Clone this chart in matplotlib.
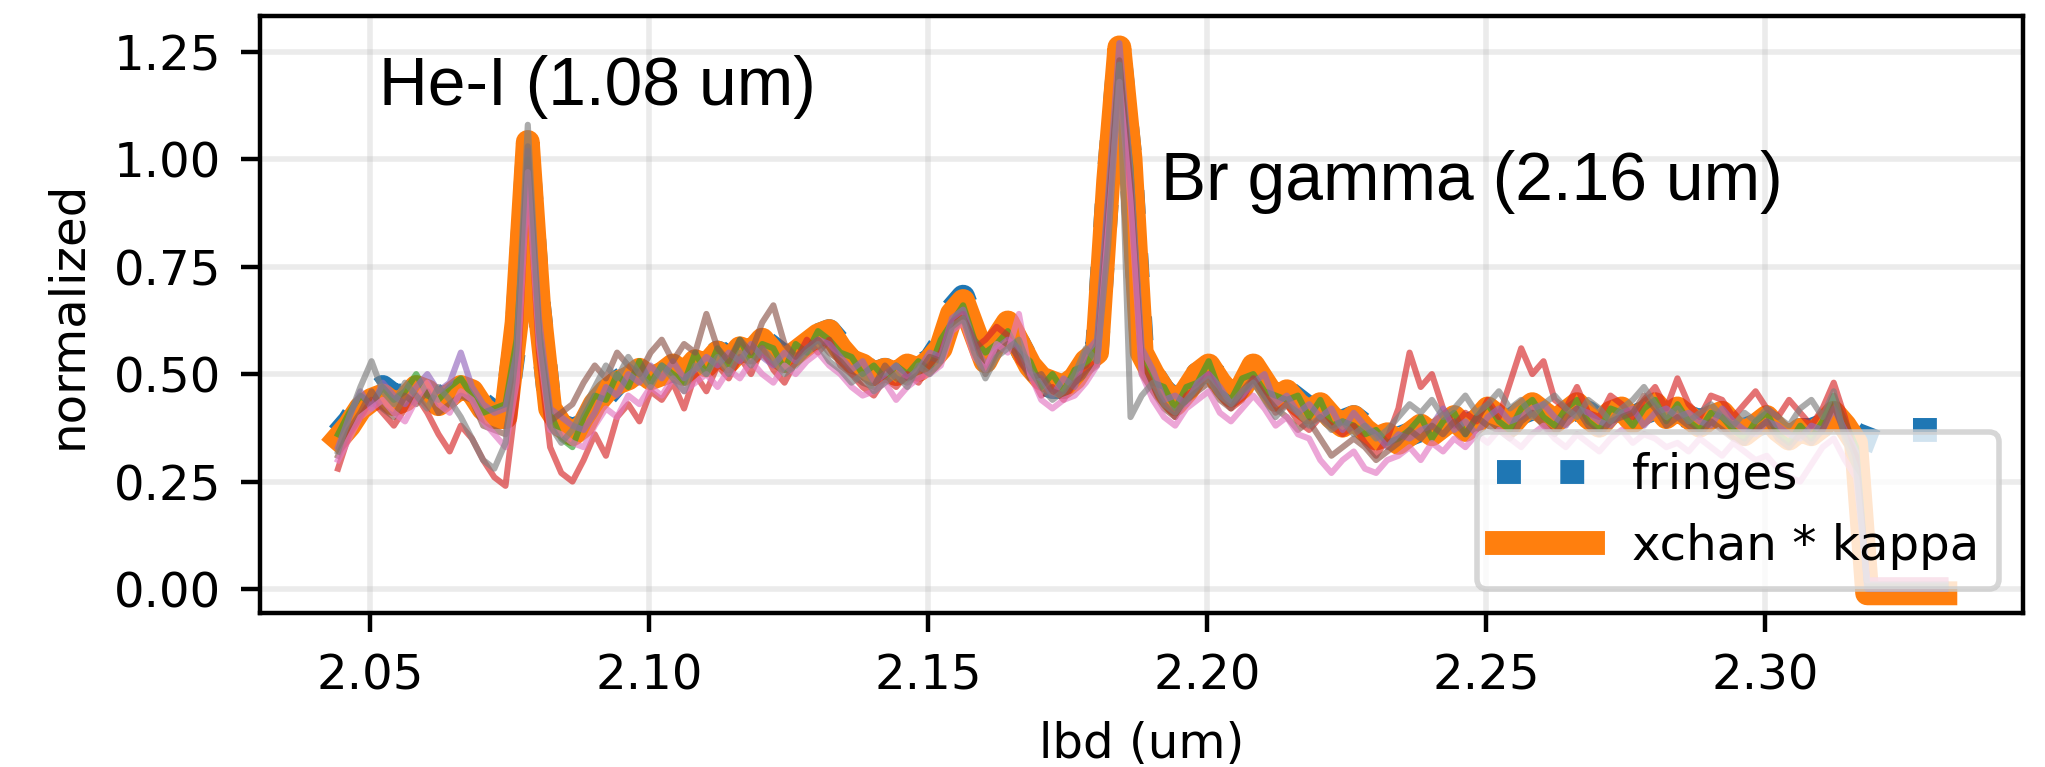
import numpy as np
import matplotlib.pyplot as plt

# wavelength grid (um), one value per spectral channel
lbd = np.linspace(2.0443, 2.3323, 145)

# thick curves
fringes = [0.36, 0.39, 0.43, 0.45, 0.47, 0.45, 0.45, 0.48, 0.47, 0.44, 0.45, 0.47, 0.46, 0.43, 0.41,
           0.41, 0.60, 1.02, 0.66, 0.42, 0.38, 0.37, 0.38, 0.42, 0.45, 0.48, 0.50, 0.50, 0.49, 0.50,
           0.51, 0.50, 0.52, 0.53, 0.55, 0.54, 0.57, 0.56, 0.58, 0.56, 0.54, 0.55, 0.57, 0.59, 0.60,
           0.57, 0.54, 0.52, 0.50, 0.51, 0.50, 0.51, 0.52, 0.53, 0.57, 0.65, 0.68, 0.61, 0.54, 0.58,
           0.61, 0.57, 0.52, 0.48, 0.47, 0.47, 0.49, 0.54, 0.56, 0.95, 1.25, 1.00, 0.57, 0.50, 0.46,
           0.44, 0.46, 0.50, 0.51, 0.49, 0.46, 0.47, 0.51, 0.48, 0.45, 0.46, 0.44, 0.42, 0.43, 0.41,
           0.39, 0.40, 0.38, 0.36, 0.36, 0.35, 0.36, 0.37, 0.37, 0.38, 0.39, 0.38, 0.39, 0.41, 0.40,
           0.39, 0.41, 0.42, 0.41, 0.40, 0.41, 0.42, 0.41, 0.39, 0.40, 0.41, 0.40, 0.41, 0.42, 0.40,
           0.41, 0.40, 0.39, 0.40, 0.40, 0.38, 0.37, 0.38, 0.39, 0.37, 0.36, 0.37, 0.37, 0.38, 0.40,
           0.38, 0.36, 0.35, 0.34, 0.35, 0.36, 0.37, 0.37, 0.37, 0.37]

xchan_kappa = [0.35, 0.38, 0.42, 0.44, 0.45, 0.43, 0.44, 0.47, 0.46, 0.43, 0.45, 0.47, 0.46, 0.42, 0.40,
               0.40, 0.62, 1.04, 0.66, 0.42, 0.38, 0.36, 0.38, 0.43, 0.46, 0.48, 0.49, 0.51, 0.49, 0.50,
               0.52, 0.50, 0.53, 0.52, 0.55, 0.53, 0.56, 0.55, 0.58, 0.55, 0.53, 0.55, 0.57, 0.59, 0.60,
               0.56, 0.53, 0.52, 0.50, 0.51, 0.50, 0.52, 0.51, 0.53, 0.56, 0.64, 0.67, 0.60, 0.53, 0.58,
               0.62, 0.57, 0.52, 0.49, 0.48, 0.47, 0.49, 0.53, 0.55, 0.95, 1.26, 1.00, 0.55, 0.50, 0.46,
               0.43, 0.46, 0.50, 0.52, 0.48, 0.45, 0.47, 0.52, 0.48, 0.44, 0.46, 0.43, 0.41, 0.43, 0.40,
               0.38, 0.40, 0.37, 0.35, 0.36, 0.34, 0.36, 0.38, 0.36, 0.38, 0.40, 0.37, 0.39, 0.42, 0.40,
               0.38, 0.41, 0.43, 0.41, 0.39, 0.41, 0.43, 0.40, 0.38, 0.41, 0.42, 0.39, 0.41, 0.43, 0.40,
               0.42, 0.40, 0.38, 0.40, 0.41, 0.38, 0.36, 0.38, 0.40, 0.37, 0.35, 0.37, 0.36, 0.38, 0.41,
               0.38, 0.34, -0.01, -0.01, -0.01, -0.01, -0.01, -0.01, -0.01, -0.01]

# per-baseline spectra (thin lines)
chan_green = [0.36, 0.41, 0.45, 0.43, 0.47, 0.44, 0.46, 0.50, 0.45, 0.44, 0.47, 0.49, 0.45, 0.41, 0.42,
              0.43, 0.58, 1.00, 0.60, 0.41, 0.35, 0.33, 0.40, 0.45, 0.44, 0.50, 0.47, 0.53, 0.48, 0.52,
              0.50, 0.48, 0.55, 0.50, 0.56, 0.52, 0.58, 0.53, 0.57, 0.56, 0.51, 0.57, 0.55, 0.60, 0.58,
              0.55, 0.54, 0.50, 0.52, 0.49, 0.52, 0.50, 0.53, 0.51, 0.58, 0.62, 0.66, 0.58, 0.55, 0.57,
              0.60, 0.55, 0.53, 0.47, 0.50, 0.46, 0.51, 0.52, 0.57, 0.90, 1.22, 0.98, 0.53, 0.48, 0.47,
              0.42, 0.47, 0.48, 0.53, 0.46, 0.44, 0.49, 0.50, 0.46, 0.45, 0.44, 0.45, 0.40, 0.44, 0.38,
              0.39, 0.38, 0.36, 0.37, 0.34, 0.35, 0.37, 0.40, 0.35, 0.39, 0.41, 0.36, 0.40, 0.43, 0.39,
              0.37, 0.42, 0.44, 0.40, 0.38, 0.42, 0.44, 0.39, 0.37, 0.42, 0.41, 0.38, 0.42, 0.44, 0.39,
              0.43, 0.39, 0.37, 0.41, 0.40, 0.37, 0.35, 0.39, 0.41, 0.36, 0.34, 0.38, 0.35, 0.39, 0.45,
              0.39, 0.33, 0.01, 0.01, 0.01, 0.01, 0.01, 0.01, 0.01, 0.01]

chan_red = [0.28, 0.36, 0.40, 0.44, 0.41, 0.38, 0.42, 0.45, 0.41, 0.36, 0.32, 0.38, 0.35, 0.30, 0.26,
            0.24, 0.45, 0.98, 0.55, 0.33, 0.27, 0.25, 0.30, 0.36, 0.31, 0.40, 0.43, 0.39, 0.46, 0.44,
            0.48, 0.42, 0.50, 0.46, 0.52, 0.49, 0.54, 0.50, 0.56, 0.51, 0.48, 0.53, 0.58, 0.55, 0.58,
            0.52, 0.50, 0.47, 0.45, 0.49, 0.47, 0.50, 0.48, 0.52, 0.55, 0.62, 0.64, 0.56, 0.58, 0.61,
            0.59, 0.53, 0.50, 0.45, 0.47, 0.44, 0.48, 0.51, 0.53, 0.88, 1.20, 0.93, 0.52, 0.47, 0.43,
            0.40, 0.45, 0.47, 0.50, 0.45, 0.42, 0.44, 0.49, 0.45, 0.41, 0.43, 0.39, 0.37, 0.40, 0.38,
            0.36, 0.38, 0.34, 0.31, 0.35, 0.42, 0.55, 0.47, 0.50, 0.42, 0.38, 0.41, 0.39, 0.44, 0.40,
            0.48, 0.56, 0.50, 0.53, 0.44, 0.42, 0.47, 0.41, 0.40, 0.45, 0.43, 0.40, 0.44, 0.47, 0.42,
            0.49, 0.43, 0.40, 0.45, 0.44, 0.40, 0.43, 0.46, 0.42, 0.40, 0.44, 0.41, 0.38, 0.42, 0.48,
            0.40, 0.30, 0.02, 0.02, 0.02, 0.02, 0.02, 0.02, 0.02, 0.02]

chan_purple = [0.33, 0.40, 0.46, 0.42, 0.48, 0.45, 0.43, 0.47, 0.50, 0.46, 0.48, 0.55, 0.47, 0.43, 0.41,
               0.42, 0.55, 1.02, 0.63, 0.42, 0.40, 0.38, 0.37, 0.41, 0.47, 0.45, 0.50, 0.48, 0.52, 0.49,
               0.53, 0.49, 0.51, 0.54, 0.52, 0.55, 0.53, 0.57, 0.54, 0.52, 0.55, 0.53, 0.56, 0.58, 0.57,
               0.54, 0.51, 0.53, 0.48, 0.50, 0.52, 0.49, 0.51, 0.55, 0.54, 0.63, 0.65, 0.57, 0.52, 0.56,
               0.58, 0.56, 0.50, 0.49, 0.45, 0.49, 0.47, 0.55, 0.58, 0.92, 1.27, 0.97, 0.56, 0.51, 0.44,
               0.45, 0.43, 0.48, 0.50, 0.47, 0.43, 0.45, 0.48, 0.50, 0.43, 0.45, 0.41, 0.43, 0.40, 0.42,
               0.37, 0.41, 0.38, 0.36, 0.33, 0.36, 0.35, 0.37, 0.38, 0.42, 0.37, 0.39, 0.36, 0.40, 0.42,
               0.39, 0.40, 0.42, 0.43, 0.40, 0.38, 0.42, 0.41, 0.39, 0.38, 0.41, 0.42, 0.38, 0.41, 0.42,
               0.40, 0.41, 0.39, 0.38, 0.42, 0.39, 0.37, 0.36, 0.39, 0.38, 0.36, 0.35, 0.38, 0.37, 0.42,
               0.37, 0.32, 0.00, 0.00, 0.00, 0.00, 0.00, 0.00, 0.00, 0.00]

chan_brown = [0.31, 0.37, 0.41, 0.46, 0.42, 0.40, 0.45, 0.43, 0.46, 0.41, 0.43, 0.45, 0.44, 0.38, 0.37,
              0.36, 0.50, 1.03, 0.58, 0.39, 0.41, 0.43, 0.48, 0.52, 0.49, 0.55, 0.52, 0.50, 0.55, 0.58,
              0.53, 0.57, 0.55, 0.64, 0.56, 0.53, 0.58, 0.55, 0.62, 0.66, 0.57, 0.54, 0.56, 0.58, 0.55,
              0.53, 0.50, 0.48, 0.47, 0.52, 0.49, 0.48, 0.50, 0.54, 0.53, 0.60, 0.63, 0.58, 0.50, 0.55,
              0.57, 0.54, 0.49, 0.50, 0.46, 0.45, 0.48, 0.50, 0.52, 0.86, 1.23, 0.94, 0.50, 0.46, 0.42,
              0.40, 0.44, 0.46, 0.48, 0.44, 0.42, 0.46, 0.49, 0.45, 0.42, 0.40, 0.37, 0.39, 0.35, 0.31,
              0.33, 0.35, 0.33, 0.30, 0.32, 0.34, 0.37, 0.35, 0.38, 0.36, 0.39, 0.36, 0.40, 0.38, 0.37,
              0.35, 0.39, 0.41, 0.38, 0.36, 0.40, 0.42, 0.38, 0.36, 0.39, 0.40, 0.41, 0.45, 0.42, 0.38,
              0.40, 0.38, 0.36, 0.39, 0.37, 0.35, 0.34, 0.37, 0.39, 0.35, 0.33, 0.36, 0.34, 0.37, 0.43,
              0.36, 0.31, 0.01, 0.01, 0.01, 0.01, 0.01, 0.01, 0.01, 0.01]

chan_pink = [0.30, 0.35, 0.40, 0.42, 0.44, 0.41, 0.39, 0.44, 0.48, 0.43, 0.41, 0.46, 0.44, 0.39, 0.36,
             0.33, 0.48, 0.97, 0.57, 0.37, 0.36, 0.34, 0.33, 0.38, 0.42, 0.40, 0.45, 0.43, 0.47, 0.45,
             0.49, 0.46, 0.48, 0.50, 0.47, 0.51, 0.49, 0.53, 0.50, 0.48, 0.52, 0.50, 0.53, 0.55, 0.52,
             0.50, 0.47, 0.45, 0.46, 0.48, 0.44, 0.47, 0.49, 0.50, 0.52, 0.60, 0.62, 0.54, 0.51, 0.57,
             0.55, 0.64, 0.50, 0.44, 0.42, 0.44, 0.45, 0.48, 0.52, 0.84, 1.18, 0.90, 0.50, 0.44, 0.40,
             0.38, 0.42, 0.44, 0.46, 0.41, 0.39, 0.42, 0.45, 0.42, 0.38, 0.40, 0.36, 0.35, 0.30, 0.27,
             0.30, 0.32, 0.28, 0.27, 0.30, 0.31, 0.33, 0.30, 0.34, 0.32, 0.35, 0.33, 0.36, 0.34, 0.37,
             0.35, 0.33, 0.36, 0.38, 0.35, 0.33, 0.36, 0.34, 0.32, 0.35, 0.37, 0.34, 0.36, 0.35, 0.33,
             0.34, 0.32, 0.35, 0.33, 0.31, 0.34, 0.32, 0.30, 0.31, 0.28, 0.26, 0.25, 0.29, 0.33, 0.35,
             0.30, 0.26, 0.02, 0.02, 0.02, 0.02, 0.02, 0.02, 0.02, 0.02]

chan_grey = [0.32, 0.40, 0.47, 0.53, 0.46, 0.43, 0.48, 0.45, 0.42, 0.47, 0.44, 0.40, 0.35, 0.30, 0.28,
             0.34, 0.56, 1.08, 0.60, 0.38, 0.34, 0.37, 0.42, 0.47, 0.52, 0.49, 0.54, 0.50, 0.47, 0.52,
             0.49, 0.46, 0.52, 0.50, 0.54, 0.50, 0.55, 0.52, 0.56, 0.53, 0.50, 0.52, 0.55, 0.57, 0.53,
             0.51, 0.48, 0.50, 0.46, 0.48, 0.50, 0.47, 0.52, 0.50, 0.53, 0.61, 0.63, 0.55, 0.49, 0.54,
             0.56, 0.58, 0.51, 0.47, 0.44, 0.46, 0.50, 0.56, 0.53, 0.80, 1.22, 0.40, 0.45, 0.48, 0.43,
             0.41, 0.44, 0.47, 0.49, 0.45, 0.43, 0.46, 0.48, 0.44, 0.40, 0.43, 0.41, 0.38, 0.40, 0.37,
             0.39, 0.36, 0.38, 0.35, 0.37, 0.40, 0.43, 0.41, 0.44, 0.40, 0.42, 0.45, 0.41, 0.43, 0.46,
             0.42, 0.44, 0.40, 0.43, 0.45, 0.42, 0.40, 0.44, 0.42, 0.39, 0.42, 0.44, 0.47, 0.43, 0.40,
             0.42, 0.39, 0.41, 0.43, 0.40, 0.38, 0.41, 0.39, 0.42, 0.40, 0.38, 0.42, 0.44, 0.40, 0.46,
             0.35, 0.28, 0.01, 0.01, 0.01, 0.01, 0.01, 0.01, 0.01, 0.01]

channels = [chan_green, chan_red, chan_purple, chan_brown, chan_pink, chan_grey]

plt.rcParams['font.size'] = 8.7
fig = plt.figure(figsize=(2045 / 400, 767 / 400), dpi=400)
ax = fig.add_axes([0.1271, 0.2004, 0.8621, 0.7787])

ax.plot(lbd, fringes, ':', lw=4.3, label='fringes')  # C0
ax.plot(lbd, xchan_kappa, lw=4.3, label='xchan * kappa')  # C1
for c in channels:
    ax.plot(lbd, c, lw=1.1, alpha=0.65)  # cycles on through C2..C7

ax.text(2.0516, 1.1256, 'He-I (1.08 um)', fontsize=12.2, family=['Liberation Sans', 'DejaVu Sans'])
ax.text(2.1917, 0.9047, 'Br gamma (2.16 um)', fontsize=12.2, family=['Liberation Sans', 'DejaVu Sans'])

ax.set_xlim(2.0303, 2.3462)
ax.set_ylim(-0.0565, 1.333)
ax.grid(color='#b0b0b0', alpha=0.25, lw=1.0)
ax.set_xlabel('lbd (um)')
ax.set_ylabel('normalized')
ax.legend(loc='lower right')

plt.savefig('out.png', dpi=400)
